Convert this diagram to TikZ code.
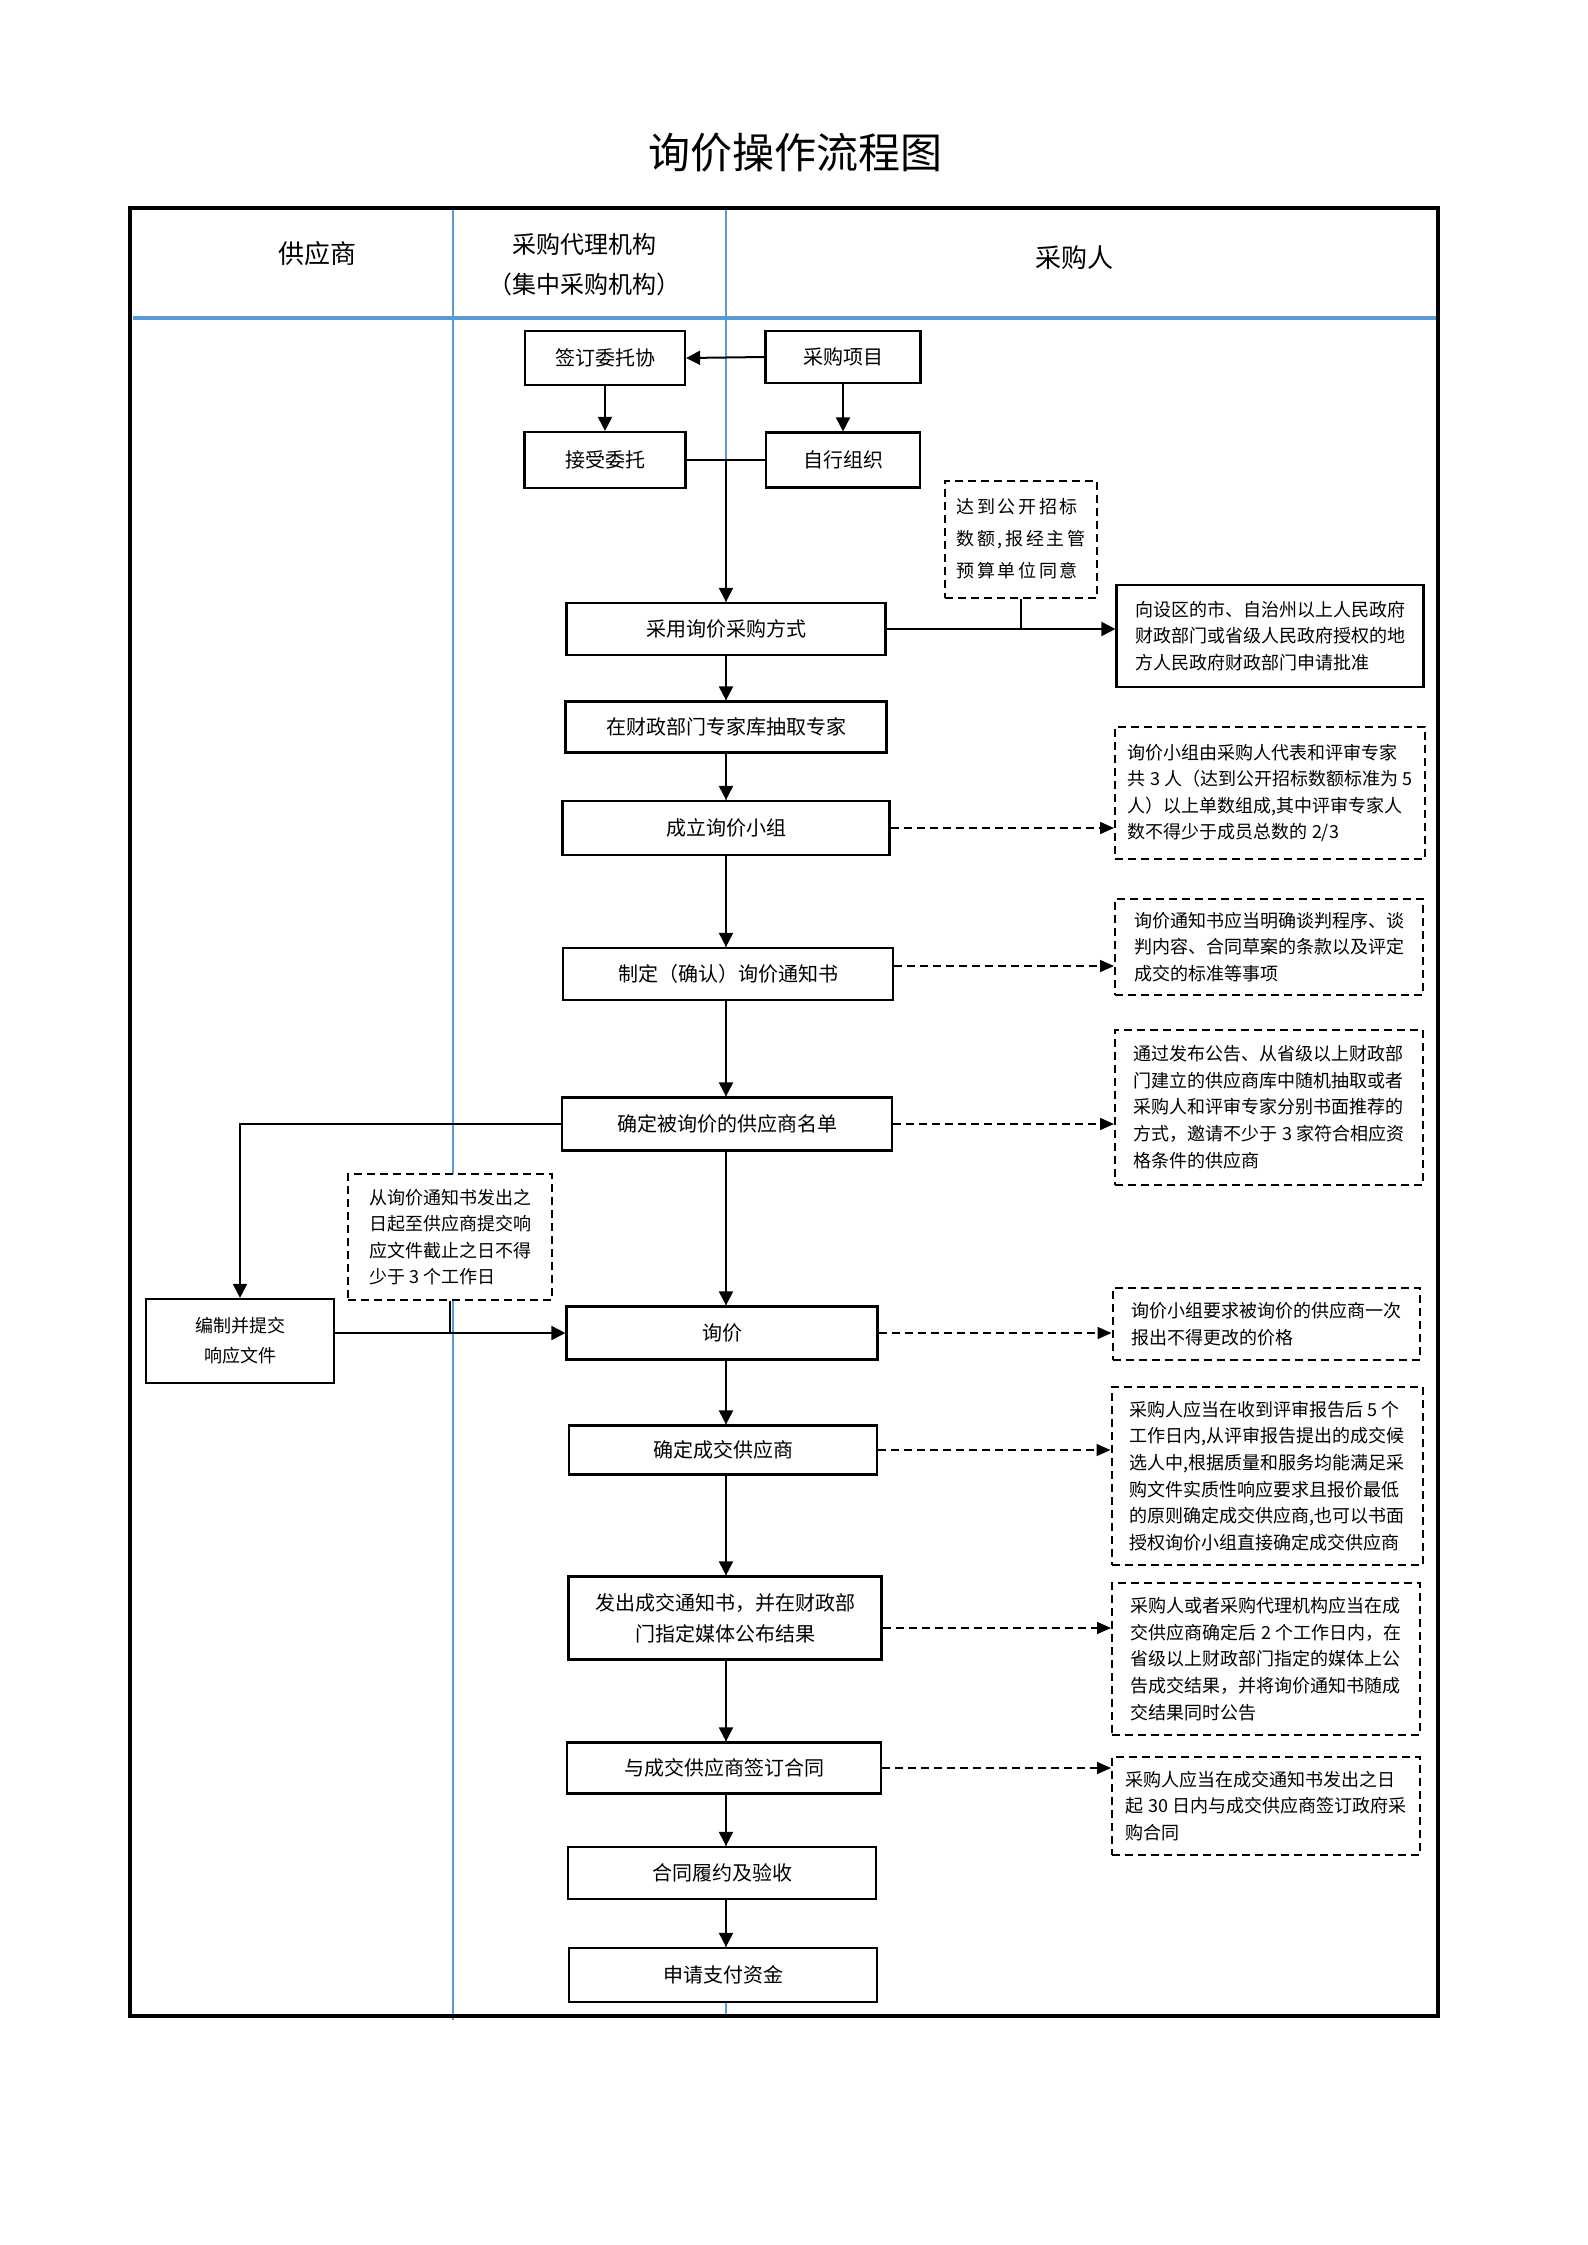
\documentclass[tikz,border=0pt]{standalone}
\usepackage{fontspec}
\setmainfont{Noto Sans CJK SC}
\usepackage{tikz}
\usetikzlibrary{arrows.meta}
\usepackage{xcolor}
\definecolor{LaneBlue}{HTML}{5B9BD5}
\newcommand{\boxfont}{\fontsize{10}{15.5}\selectfont}
\newcommand{\notefont}{\fontsize{9}{13.3}\selectfont}

\begin{document}
\begin{tikzpicture}[x=0.5pt, y=-0.5pt,
  box/.style={draw, line width=1.1pt, fill=white, align=center, inner sep=2pt, font=\boxfont},
  note/.style={draw, line width=1pt, dash pattern=on 4pt off 2.5pt, fill=white,
               align=left, inner sep=2pt, font=\notefont},
  arr/.style={-{Triangle[length=7pt, width=7pt]}, line width=1pt},
  darr/.style={-{Triangle[length=7pt, width=6pt]}, line width=0.8pt, dash pattern=on 4pt off 2.5pt},
  link/.style={line width=1pt},
  lane/.style={LaneBlue, line width=0.8pt},
  head/.style={font=\fontsize{13}{18}\selectfont, align=center}
]
\useasboundingbox (0,0) rectangle (1587,2245);

% ── FRAME AND LANES ───────────────────────────────────────────────────────────
\node[font=\fontsize{21}{25}\selectfont] (title) at (795,153) {询价操作流程图};
\coordinate (axis) at (726,0);
\draw[lane] (453,208) -- (453,2020);
\draw[lane] (726,208) -- (726,2018);
\draw[LaneBlue, line width=1.6pt] (133,318) -- (1436,318);
\draw[line width=1.7pt] (130,208) rectangle (1438,2016);

\node[head] (gys) at (317,254) {供应商};
\node[head, font=\fontsize{12}{20}\selectfont] (daili) at (584,265) {采购代理机构\\（集中采购机构）};
\node[head] (cgr) at (1074,258) {采购人};

% ── TOP: ENTRUST OR SELF-ORGANISE ─────────────────────────────────────────────
\node[box, minimum width=80pt, minimum height=27pt]   (qianding) at (605,358) {签订委托协};
\node[box, minimum width=77.5pt, minimum height=26pt] (caigou)   at (843,357) {采购项目};
\node[box, minimum width=80.5pt, minimum height=28pt] (jieshou)  at (605,460) {接受委托};
\node[box, minimum width=77pt, minimum height=27.5pt] (zixing)   at (843,460) {自行组织};

\node[note, minimum width=76pt, minimum height=58.5pt,
      font=\fontsize{9}{16}\selectfont\addfontfeature{LetterSpace=14}] (dabiao) at (1021,539)
  {达到公开招标\\数额,报经主管\\预算单位同意};
\node[box, minimum width=159.5pt, minimum height=26pt] (caiyong) at (726,629) {采用询价采购方式};
\node[box, minimum width=153.5pt, minimum height=51pt, align=left, font=\notefont] (xiangshe) at (1270,636)
  {向设区的市、自治州以上人民政府\\财政部门或省级人民政府授权的地\\方人民政府财政部门申请批准};

% ── MAIN FLOW ─────────────────────────────────────────────────────────────────
\node[box, minimum width=160.5pt, minimum height=25.5pt] (chouqu)    at (726,727)  {在财政部门专家库抽取专家};
\node[box, minimum width=163.5pt, minimum height=27pt]   (chengli)   at (726,828)  {成立询价小组};
\node[box, minimum width=165pt, minimum height=26pt]     (zhiding)   at (728,974)  {制定（确认）询价通知书};
\node[box, minimum width=165pt, minimum height=26.5pt]   (mingdan)   at (727,1124) {确定被询价的供应商名单};
\node[box, minimum width=155.5pt, minimum height=26.5pt] (xunjia)    at (722,1333) {询价};
\node[box, minimum width=154pt, minimum height=24.5pt]   (chengjiao) at (723,1450) {确定成交供应商};
\node[box, minimum width=156.5pt, minimum height=41.5pt] (fachu)     at (725,1618) {发出成交通知书，并在财政部\\门指定媒体公布结果};
\node[box, minimum width=157pt, minimum height=25.5pt]   (qianyue)   at (724,1768) {与成交供应商签订合同};
\node[box, minimum width=154pt, minimum height=26pt]     (lvyue)     at (722,1873) {合同履约及验收};
\node[box, minimum width=154pt, minimum height=27pt]     (zhifu)     at (723,1975) {申请支付资金};

\node[box, minimum width=94pt, minimum height=42pt, font=\fontsize{9}{15}\selectfont] (bianzhi) at (240,1341)
  {编制并提交\\响应文件};
\node[note, minimum width=102pt, minimum height=63pt] (ncong) at (450,1237)
  {从询价通知书发出之\\日起至供应商提交响\\应文件截止之日不得\\少于 3 个工作日};

% ── NOTES ─────────────────────────────────────────────────────────────────────
\node[note, minimum width=155pt, minimum height=66pt] (nzu) at (1270,793)
  {询价小组由采购人代表和评审专家\\共 3 人（达到公开招标数额标准为 5\\人）以上单数组成,其中评审专家人\\数不得少于成员总数的 2/3};
\node[note, minimum width=154pt, minimum height=48pt] (ntz) at (1269,947)
  {询价通知书应当明确谈判程序、谈\\判内容、合同草案的条款以及评定\\成交的标准等事项};
\node[note, minimum width=154pt, minimum height=77.5pt] (ngong) at (1269,1107)
  {通过发布公告、从省级以上财政部\\门建立的供应商库中随机抽取或者\\采购人和评审专家分别书面推荐的\\方式，邀请不少于 3 家符合相应资\\格条件的供应商};
\node[note, minimum width=153.5pt, minimum height=36pt] (nxj) at (1266,1324)
  {询价小组要求被询价的供应商一次\\报出不得更改的价格};
\node[note, minimum width=155.5pt, minimum height=89pt] (ncj) at (1267,1476)
  {采购人应当在收到评审报告后 5 个\\工作日内,从评审报告提出的成交候\\选人中,根据质量和服务均能满足采\\购文件实质性响应要求且报价最低\\的原则确定成交供应商,也可以书面\\授权询价小组直接确定成交供应商};
\node[note, minimum width=154pt, minimum height=76pt] (nfc) at (1266,1659)
  {采购人或者采购代理机构应当在成\\交供应商确定后 2 个工作日内，在\\省级以上财政部门指定的媒体上公\\告成交结果，并将询价通知书随成\\交结果同时公告};
\node[note, minimum width=154pt, minimum height=49pt] (nqy) at (1266,1806)
  {采购人应当在成交通知书发出之日\\起 30 日内与成交供应商签订政府采\\购合同};

% ── CONNECTORS ────────────────────────────────────────────────────────────────
\draw[arr] (caigou.west) -- (qianding.east);
\draw[arr] (qianding) -- (jieshou);
\draw[arr] (caigou.south) -- (zixing.north);
\draw[link] (jieshou.east) -- (zixing.west);
\draw[arr] (jieshou.east -| axis) -- (caiyong.north -| axis);
\draw[arr] (caiyong.east) -- (caiyong.east -| xiangshe.west);
\draw[link] (dabiao.south) -- (dabiao.south |- caiyong.east);

\draw[arr] (caiyong.south -| axis)   -- (chouqu.north -| axis);
\draw[arr] (chouqu.south -| axis)    -- (chengli.north -| axis);
\draw[arr] (chengli.south -| axis)   -- (zhiding.north -| axis);
\draw[arr] (zhiding.south -| axis)   -- (mingdan.north -| axis);
\draw[arr] (mingdan.south -| axis)   -- (xunjia.north -| axis);
\draw[arr] (xunjia.south -| axis)    -- (chengjiao.north -| axis);
\draw[arr] (chengjiao.south -| axis) -- (fachu.north -| axis);
\draw[arr] (fachu.south -| axis)     -- (qianyue.north -| axis);
\draw[arr] (qianyue.south -| axis)   -- (lvyue.north -| axis);
\draw[arr] (lvyue.south -| axis)     -- (zhifu.north -| axis);

% supplier side
\draw[arr] (mingdan.west) -| (bianzhi.north);
\draw[arr] (bianzhi.east |- xunjia.west) -- (xunjia.west);
\draw[link] (ncong.south) -- (ncong.south |- xunjia.west);

% dashed links to notes
\draw[darr] (chengli.east) -- (chengli.east -| nzu.west);
\draw[darr] ([yshift=4pt]zhiding.east) -- ([yshift=4pt]zhiding.east -| ntz.west);
\draw[darr] (mingdan.east) -- (mingdan.east -| ngong.west);
\draw[darr] (xunjia.east) -- (xunjia.east -| nxj.west);
\draw[darr] (chengjiao.east) -- (chengjiao.east -| ncj.west);
\draw[darr] ([yshift=-5pt]fachu.east) -- ([yshift=-5pt]fachu.east -| nfc.west);
\draw[darr] (qianyue.east) -- (qianyue.east -| nqy.west);

\end{tikzpicture}
\end{document}
